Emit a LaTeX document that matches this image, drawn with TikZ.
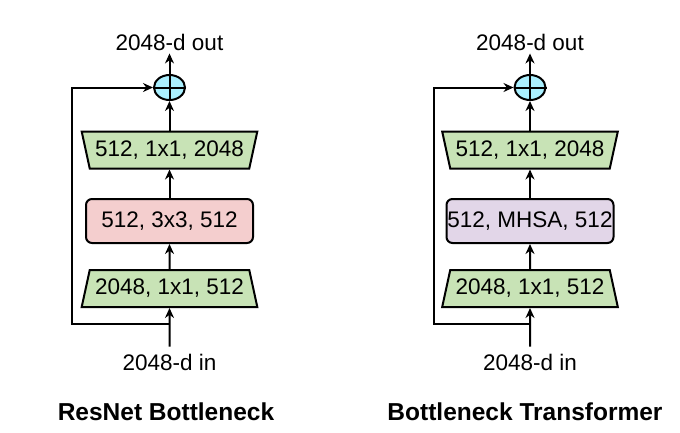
\documentclass[tikz,border=0pt]{standalone}
\usepackage{fontspec}
\setmainfont{Liberation Sans}
\usepackage{tikz}
\usetikzlibrary{positioning,arrows.meta,shapes.geometric,calc}
\definecolor{convgreen}{RGB}{200,227,182}
\definecolor{convpink}{RGB}{244,206,206}
\definecolor{mhsapurple}{RGB}{226,214,232}
\definecolor{sumcyan}{RGB}{170,240,255}

\begin{document}
\begin{tikzpicture}[
  x=1pt, y=-1pt,
  font=\fontsize{22.5}{26}\selectfont,
  conv/.style={trapezium, draw, fill=convgreen, line width=2pt, trapezium stretches=true,
    trapezium left angle=68, trapezium right angle=68, minimum width=176pt, minimum height=37pt, inner sep=0pt},
  convtop/.style={conv, shape border rotate=180},
  mid/.style={rectangle, draw, line width=2pt, rounded corners=6pt, minimum width=167pt, minimum height=44pt, inner sep=0pt},
  sum/.style={ellipse, draw, fill=sumcyan, line width=2pt, minimum width=31pt, minimum height=25pt, inner sep=0pt},
  lbl/.style={inner sep=0pt},
  title/.style={font=\fontsize{24.5}{28}\selectfont\bfseries},
  arrow/.style={-{Stealth[length=10pt,width=9pt]}, line width=2pt}
]
  \useasboundingbox (0,0) rectangle (680,432);

  % ResNet Bottleneck
  \node[lbl] (outL) at (169.5,42) {2048-d out};
  \node[sum] (sumL) at (169.5,87.5) {};
  \node[convtop] (upL) at (169.5,150) {512, 1x1, 2048};
  \node[mid, fill=convpink] (midL) at (169.5,221) {512, 3x3, 512};
  \node[conv] (downL) at (169.5,288.5) {2048, 1x1, 512};
  \node[lbl] (inL) at (169.5,362) {2048-d in};
  \coordinate (splitL) at (169.5,324);
  \coordinate (cornerL) at (72,324);
  \node[title] (titleL) at (166,412) {ResNet Bottleneck};

  \draw[line width=2pt] (sumL.north) -- (sumL.south) (sumL.west) -- (sumL.east);
  \draw[arrow, shorten <=7pt] (inL) -- (downL);
  \draw[arrow] (downL) -- (midL);
  \draw[arrow] (midL) -- (upL);
  \draw[arrow] (upL) -- (sumL);
  \draw[arrow, shorten >=3pt] (sumL) -- (outL);
  \draw[arrow] (splitL) -- (cornerL) |- (sumL);

  % Bottleneck Transformer
  \node[lbl] (outR) at (530,42) {2048-d out};
  \node[sum] (sumR) at (530,87.5) {};
  \node[convtop] (upR) at (530,150) {512, 1x1, 2048};
  \node[mid, fill=mhsapurple] (midR) at (530,221) {512, MHSA, 512};
  \node[conv] (downR) at (530,288.5) {2048, 1x1, 512};
  \node[lbl] (inR) at (530,362) {2048-d in};
  \coordinate (splitR) at (530,324);
  \coordinate (cornerR) at (434,324);
  \node[title] (titleR) at (525,412) {Bottleneck Transformer};

  \draw[line width=2pt] (sumR.north) -- (sumR.south) (sumR.west) -- (sumR.east);
  \draw[arrow, shorten <=7pt] (inR) -- (downR);
  \draw[arrow] (downR) -- (midR);
  \draw[arrow] (midR) -- (upR);
  \draw[arrow] (upR) -- (sumR);
  \draw[arrow, shorten >=3pt] (sumR) -- (outR);
  \draw[arrow] (splitR) -- (cornerR) |- (sumR);
\end{tikzpicture}
\end{document}
